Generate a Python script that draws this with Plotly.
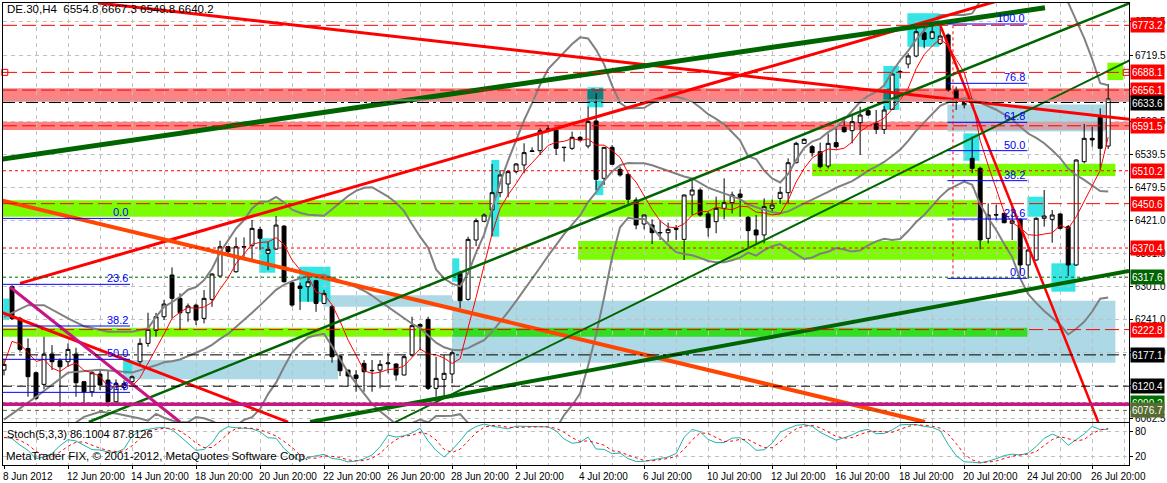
import pandas as pd
import plotly.graph_objects as go

# H4 bars of DE.30, bar 0 = 8 Jun 2012 20:00 (4 bars per day)
opens = [6149.6, 6300.4, 6243.1, 6188.8, 6144.8, 6123.7, 6178.6, 6166.5, 6164.7, 6178.6,
         6128.5, 6110.4, 6142.4, 6131.5, 6092.3, 6118.0, 6128.5, 6164.7, 6197.9, 6221.4,
         6246.1, 6321.5, 6279.3, 6253.3, 6267.0, 6243.1, 6277.5, 6319.7, 6372.7, 6327.5,
         6373.0, 6374.5, 6404.0, 6360.7, 6368.5, 6410.0, 6307.6, 6301.6, 6300.4, 6311.2,
         6270.2, 6264.2, 6175.0, 6149.6, 6140.6, 6161.7, 6148.4, 6149.6, 6161.0, 6160.6,
         6140.7, 6176.8, 6228.0, 6241.3, 6116.5, 6132.8, 6142.5, 6324.6, 6277.5, 6384.9,
         6418.7, 6439.2, 6470.5, 6486.2, 6508.5, 6520.6, 6545.0, 6546.5, 6585.0, 6583.9,
         6552.0, 6550.7, 6570.6, 6554.9, 6600.2, 6496.4, 6552.5, 6512.7, 6503.7, 6457.2,
         6413.8, 6412.0, 6398.5, 6398.1, 6406.0, 6386.0, 6466.3, 6475.3, 6432.0, 6418.1,
         6442.2, 6452.4, 6468.0, 6425.9, 6403.0, 6394.0, 6442.1, 6460.2, 6470.5, 6524.7,
         6559.7, 6553.7, 6544.6, 6518.7, 6561.0, 6588.7, 6582.6, 6597.1, 6618.8, 6595.9,
         6585.0, 6621.2, 6689.0, 6703.2, 6717.7, 6759.9, 6749.7, 6740.6, 6755.7, 6656.2,
         6629.5, 6532.6, 6514.5, 6387.9, 6430.0, 6433.1, 6415.0, 6422.3, 6339.7, 6348.7,
         6424.1, 6422.3, 6432.0, 6409.0, 6339.7, 6526.6, 6568.8, 6608.0, 6554.8]
highs = [6170.0, 6303.0, 6246.0, 6206.9, 6147.0, 6209.9, 6194.8, 6170.7, 6197.9, 6190.0,
         6130.0, 6149.6, 6149.6, 6149.6, 6132.7, 6131.0, 6140.0, 6206.9, 6253.3, 6253.0,
         6276.3, 6335.3, 6288.3, 6270.0, 6270.0, 6294.3, 6325.0, 6383.6, 6374.0, 6389.6,
         6389.6, 6421.0, 6409.0, 6381.8, 6428.2, 6412.0, 6310.0, 6307.6, 6318.5, 6313.0,
         6294.3, 6267.2, 6178.6, 6150.0, 6149.6, 6167.7, 6167.7, 6167.7, 6179.9, 6161.8,
         6176.8, 6246.2, 6234.0, 6246.2, 6173.8, 6176.8, 6185.9, 6329.4, 6390.9, 6424.1,
         6433.1, 6522.4, 6511.5, 6511.5, 6523.6, 6559.8, 6552.5, 6586.9, 6593.0, 6586.9,
         6553.0, 6580.9, 6573.0, 6626.0, 6650.2, 6553.0, 6556.7, 6517.5, 6506.7, 6462.0,
         6431.0, 6422.3, 6419.9, 6416.2, 6412.0, 6467.0, 6493.4, 6478.3, 6436.1, 6463.3,
         6496.4, 6472.3, 6476.5, 6428.3, 6430.0, 6460.2, 6458.4, 6481.3, 6532.6, 6562.7,
         6568.8, 6556.7, 6561.0, 6577.8, 6586.8, 6607.9, 6611.0, 6626.0, 6626.0, 6620.0,
         6627.2, 6687.6, 6692.4, 6722.5, 6767.7, 6772.0, 6773.8, 6770.8, 6758.7, 6662.3,
         6633.3, 6571.8, 6517.5, 6451.2, 6448.2, 6434.0, 6448.2, 6424.1, 6375.8, 6426.0,
         6475.3, 6439.2, 6433.0, 6412.0, 6530.8, 6594.7, 6590.0, 6623.0, 6667.3]
lows = [6140.0, 6240.0, 6183.0, 6101.4, 6095.0, 6114.6, 6149.6, 6083.3, 6155.6, 6101.4,
        6089.3, 6101.4, 6113.4, 6083.3, 6089.3, 6113.0, 6125.5, 6158.7, 6191.8, 6210.0,
        6240.0, 6243.1, 6222.0, 6237.0, 6231.0, 6234.0, 6264.0, 6318.0, 6354.7, 6325.7,
        6351.6, 6350.4, 6367.0, 6330.5, 6366.7, 6308.0, 6264.0, 6258.2, 6273.2, 6255.0,
        6269.0, 6162.9, 6138.8, 6119.5, 6110.4, 6110.4, 6110.4, 6116.5, 6143.7, 6130.4,
        6140.0, 6173.8, 6186.0, 6113.5, 6101.5, 6098.5, 6125.6, 6261.3, 6275.1, 6374.0,
        6418.0, 6392.1, 6462.1, 6462.1, 6505.5, 6505.5, 6544.0, 6538.6, 6582.0, 6538.6,
        6526.6, 6547.7, 6562.8, 6550.7, 6475.3, 6484.4, 6520.6, 6499.5, 6448.2, 6404.2,
        6404.2, 6377.6, 6384.9, 6381.9, 6384.9, 6348.7, 6430.1, 6427.1, 6391.0, 6397.0,
        6422.3, 6433.1, 6427.1, 6369.8, 6375.8, 6378.8, 6436.1, 6450.0, 6451.2, 6523.5,
        6558.5, 6535.6, 6514.5, 6514.5, 6550.7, 6579.0, 6559.7, 6538.6, 6609.2, 6576.6,
        6576.6, 6620.0, 6677.3, 6695.4, 6715.3, 6731.6, 6747.8, 6737.6, 6653.2, 6620.0,
        6623.0, 6505.5, 6368.0, 6378.8, 6421.0, 6415.0, 6384.9, 6324.6, 6315.5, 6347.5,
        6409.0, 6380.0, 6404.0, 6319.7, 6337.9, 6523.6, 6553.7, 6511.5, 6549.8]
closes = [6159.9, 6243.1, 6187.0, 6137.6, 6098.4, 6178.6, 6164.7, 6155.6, 6187.0, 6126.7,
          6110.4, 6144.8, 6122.5, 6092.3, 6125.5, 6125.0, 6137.5, 6197.9, 6223.2, 6246.1,
          6269.0, 6279.3, 6253.3, 6265.4, 6240.0, 6279.3, 6323.3, 6372.7, 6363.7, 6372.7,
          6372.0, 6405.9, 6388.0, 6367.9, 6411.9, 6309.4, 6267.2, 6297.3, 6309.4, 6270.2,
          6288.3, 6173.7, 6148.4, 6138.8, 6134.6, 6146.6, 6148.9, 6159.9, 6162.5, 6140.7,
          6173.8, 6229.9, 6232.0, 6116.5, 6134.6, 6143.7, 6181.0, 6275.1, 6386.0, 6419.9,
          6430.1, 6470.5, 6502.5, 6508.5, 6522.4, 6542.9, 6546.0, 6582.7, 6585.5, 6550.7,
          6552.5, 6570.6, 6565.8, 6599.0, 6494.6, 6552.5, 6521.8, 6502.5, 6458.5, 6412.0,
          6430.1, 6398.1, 6398.0, 6404.2, 6404.5, 6466.3, 6475.3, 6430.1, 6407.2, 6442.2,
          6452.4, 6466.3, 6462.0, 6401.8, 6394.0, 6445.2, 6448.2, 6471.1, 6524.7, 6559.7,
          6567.0, 6542.8, 6517.5, 6559.7, 6553.7, 6580.8, 6598.9, 6611.0, 6611.0, 6585.0,
          6620.0, 6685.1, 6689.5, 6717.7, 6761.7, 6747.8, 6761.7, 6753.9, 6656.2, 6638.1,
          6632.0, 6514.5, 6384.9, 6430.1, 6430.5, 6416.2, 6419.3, 6339.7, 6366.8, 6424.1,
          6428.3, 6430.1, 6406.0, 6339.7, 6529.6, 6568.8, 6566.0, 6550.7, 6640.2]
bars = list(range(len(closes)))

# Bollinger band values before the 20-bar window is full
bb_head_upper_bars = [0, 3, 5, 8, 10, 13, 16, 18]
bb_head_upper = [6246, 6267, 6267, 6243, 6229, 6219, 6219, 6225]
bb_head_mid_bars = [0, 4, 8, 12, 16, 18]
bb_head_mid = [6060, 6101, 6145, 6150, 6145, 6153]
bb_head_lower_bars = [9, 10, 12, 14, 17, 18]
bb_head_lower = [6055, 6065, 6074, 6071, 6062, 6058]

# horizontal levels
level_prices = [6773.2, 6688.1, 6656.1, 6633.6, 6591.5, 6510.2, 6450.6,
                6370.4, 6317.6, 6222.8, 6177.1, 6120.4, 6090.2, 6076.7]
level_colors = ["#FF0000", "#FF0000", "#FF0000", "#000000", "#FF0000", "#FF0000", "#FF0000",
                "#FF0000", "#006400", "#FF0000", "#000000", "#000000", "#007000", "#556B2F"]
level_dash = ["14px,5px", "14px,5px", "14px,5px", "12px,4px,3px,4px", "14px,5px", "3px,3px", "14px,5px",
              "3px,3px", "3px,3px", "14px,5px", "12px,4px,3px,4px", "9px,5px", "3px,3px", "4px,4px"]
bid_price = 6638.0
magenta_level = 6087.6

# zones: (bar from, bar to, price low, price high)
salmon_zones = [(-1, 142, 6635.0, 6659.2), (-1, 142, 6583.7, 6598.8)]
lime_zones = [(137.9, 139.9, 6674.2, 6705.6), (101.0, 138.9, 6500.6, 6523.0),
              (-0.2, 121.6, 6427.0, 6457.0), (71.75, 126.6, 6349.0, 6383.0),
              (-0.2, 127.9, 6210.0, 6226.0)]
blue_zones = [(14.9, 41.75, 6133.0, 6168.0), (39.9, 56.0, 6264.0, 6285.0),
              (56.0, 138.9, 6163.0, 6275.0), (117.9, 137.6, 6581.0, 6630.0)]
cyan_zones = [(-0.1, 0.66, 6240.0, 6279.0), (14.9, 16.0, 6142.4, 6167.7),
              (31.9, 33.9, 6325.7, 6387.9), (36.9, 40.8, 6273.2, 6336.5),
              (56.0, 56.9, 6309.4, 6351.7), (60.9, 61.9, 6390.9, 6529.6),
              (72.9, 74.9, 6624.9, 6661.1), (73.9, 74.9, 6466.0, 6492.0),
              (109.9, 111.9, 6620.0, 6699.6), (112.9, 116.9, 6734.6, 6795.0),
              (119.9, 121.9, 6528.3, 6577.8), (127.9, 129.9, 6427.0, 6463.2),
              (130.9, 133.9, 6291.4, 6342.7)]

# trend lines: (bar, price, bar, price)
trend_lines = [(11.75, 6813.6, 140.75, 6603.2), (2.0, 6306.5, 124.0, 6816.6),
               (117.0, 6773.8, 136.75, 6055.6), (-0.5, 6255.1, 35.5, 6055.6),
               (-0.5, 6457.2, 115.1, 6055.6), (-0.5, 6530.8, 130.1, 6804.9),
               (38.25, 6055.6, 140.6, 6328.8), (10.6, 6055.6, 140.75, 6813.6),
               (48.9, 6055.6, 140.75, 6710.5), (0.75, 6299.8, 22.0, 6055.6)]
trend_styles = [("#FF0000", 3), ("#FF0000", 3), ("#FF0000", 2.5), ("#FF0000", 3),
                ("#FF4500", 4), ("#006400", 5), ("#006400", 4), ("#006400", 2.5),
                ("#006400", 2), ("#C71585", 3)]

# Fibonacci retracements
fib_left_labels = ["0.0", "23.6", "38.2", "50.0", "61.8"]
fib_left_prices = [6424.0, 6304.7, 6229.3, 6169.0, 6109.3]
fib_left_span = (-0.2, 15.75)
fib_right_labels = ["0.0", "23.6", "38.2", "50.0", "61.8", "76.8", "100.0"]
fib_right_prices = [6315.5, 6422.8, 6492.2, 6546.5, 6597.8, 6668.3, 6775.6]
fib_right_span = (117.9, 127.9)
fib_right_link = (118.6, 6773.2, 6317.6)

price_ticks = [6779.5, 6719.5, 6659.5, 6598.5, 6539.5, 6479.5, 6421.0,
               6361.0, 6301.0, 6241.0, 6181.0, 6121.0, 6062.5]
hidden_ticks = [6659.5, 6121.0]  # fully under level labels
date_label_bars = list(range(0, 137, 8))
date_labels = ["8 Jun 2012", "12 Jun 20:00", "14 Jun 20:00", "18 Jun 20:00", "20 Jun 20:00",
               "22 Jun 20:00", "26 Jun 20:00", "28 Jun 20:00", "2 Jul 20:00", "4 Jul 20:00",
               "6 Jul 20:00", "10 Jul 20:00", "12 Jul 20:00", "16 Jul 20:00", "18 Jul 20:00",
               "20 Jul 20:00", "24 Jul 20:00", "26 Jul 20:00"]

# indicators
close_s = pd.Series(closes, dtype=float)
high_s = pd.Series(highs, dtype=float)
low_s = pd.Series(lows, dtype=float)
mid = close_s.rolling(20).mean()
sd = close_s.rolling(20).std(ddof=0)
upper = mid + 2 * sd
lower = mid - 2 * sd
ma5 = close_s.rolling(5, min_periods=1).mean()
ll = low_s.rolling(5, min_periods=1).min()
hh = high_s.rolling(5, min_periods=1).max()
stoch_main = 100 * (close_s - ll).rolling(3, min_periods=1).sum() / (hh - ll).rolling(3, min_periods=1).sum()
stoch_sig = stoch_main.rolling(3, min_periods=1).mean()

GRID = "#C0C0C0"
FONT = "Liberation Sans"

fig = go.Figure()

fig.add_trace(go.Candlestick(
    x=bars, open=opens, high=highs, low=lows, close=closes,
    increasing=dict(line=dict(color="black", width=1), fillcolor="white"),
    decreasing=dict(line=dict(color="black", width=1), fillcolor="black"),
    whiskerwidth=0, hoverinfo="skip", xaxis="x", yaxis="y"))

for hb, hv, s in [(bb_head_upper_bars, bb_head_upper, upper),
                  (bb_head_mid_bars, bb_head_mid, mid),
                  (bb_head_lower_bars, bb_head_lower, lower)]:
    fig.add_trace(go.Scatter(x=hb + bars[19:], y=hv + s[19:].tolist(), mode="lines",
                             line=dict(color="#808080", width=2), hoverinfo="skip"))

fig.add_trace(go.Scatter(x=bars, y=ma5, mode="lines", line=dict(color="#FF0000", width=1), hoverinfo="skip"))

for (x0, p0, x1, p1), (col, w) in zip(trend_lines, trend_styles):
    fig.add_trace(go.Scatter(x=[x0, x1], y=[p0, p1], mode="lines",
                             line=dict(color=col, width=w), hoverinfo="skip"))

# anchor squares of the 6688.1 line
fig.add_trace(go.Scatter(x=[0.1, 140.25], y=[level_prices[1]] * 2, mode="markers", cliponaxis=False,
                         marker=dict(symbol="square-open", size=6, color="#FF0000", line=dict(width=1)),
                         hoverinfo="skip"))

# stochastic
fig.add_trace(go.Scatter(x=bars, y=stoch_main, mode="lines", line=dict(color="#20B2AA", width=1),
                         xaxis="x2", yaxis="y2", hoverinfo="skip"))
fig.add_trace(go.Scatter(x=bars, y=stoch_sig, mode="lines", line=dict(color="#FF0000", width=1, dash="3px,3px"),
                         xaxis="x2", yaxis="y2", hoverinfo="skip"))

shapes = []


def rect(z, color):
    shapes.append(dict(type="rect", xref="x", yref="y", x0=z[0], x1=z[1], y0=z[2], y1=z[3],
                       fillcolor=color, line=dict(width=0), layer="below"))


def overlap(a, b):
    x0, x1 = max(a[0], b[0]), min(a[1], b[1])
    y0, y1 = max(a[2], b[2]), min(a[3], b[3])
    return (x0, x1, y0, y1) if x0 < x1 and y0 < y1 else None


for z in salmon_zones:
    rect(z, "#FF8282")
for z in lime_zones:
    rect(z, "#7CFC00")
for z in blue_zones:
    rect(z, "#ADD8E6")
for a in lime_zones:
    for b in blue_zones:
        o = overlap(a, b)
        if o:
            rect(o, "#33DD22")
for a in blue_zones:
    for b in salmon_zones:
        o = overlap(a, b)
        if o:
            rect(o, "#CFA6AD")
for z in cyan_zones:
    rect(z, "#33E6E6")
for a in cyan_zones:
    for b in salmon_zones:
        o = overlap(a, b)
        if o:
            rect(o, "#108080")

for p, col, d in zip(level_prices, level_colors, level_dash):
    shapes.append(dict(type="line", xref="x domain", yref="y", x0=0, x1=1, y0=p, y1=p,
                       line=dict(color=col, width=1, dash=d)))
shapes.append(dict(type="line", xref="x domain", yref="y", x0=0, x1=1, y0=bid_price, y1=bid_price,
                   line=dict(color="#A8A8A8", width=1)))
shapes.append(dict(type="line", xref="x domain", yref="y", x0=0, x1=1, y0=magenta_level, y1=magenta_level,
                   line=dict(color="#C71585", width=3.5)))

for (x0, x1), prices in [(fib_left_span, fib_left_prices), (fib_right_span, fib_right_prices)]:
    for p in prices:
        shapes.append(dict(type="line", xref="x", yref="y", x0=x0, x1=x1, y0=p, y1=p,
                           line=dict(color="#0000FF", width=1)))
shapes.append(dict(type="line", xref="x", yref="y", x0=fib_right_link[0], x1=fib_right_link[0],
                   y0=fib_right_link[1], y1=fib_right_link[2], line=dict(color="#FF0000", width=1, dash="3px,3px")))

annotations = []
for (x0, x1), prices, labels in [(fib_left_span, fib_left_prices, fib_left_labels),
                                 (fib_right_span, fib_right_prices, fib_right_labels)]:
    for p, t in zip(prices, labels):
        annotations.append(dict(x=x1, y=p, xref="x", yref="y", text=t, showarrow=False,
                                xanchor="right", yanchor="bottom", yshift=-2,
                                font=dict(family=FONT, size=11, color="#0000FF")))

for p, col in zip(level_prices, level_colors):
    annotations.append(dict(x=1, y=p, xref="x domain", yref="y", text=f"{p:.1f}", showarrow=False,
                            xanchor="left", xshift=1, height=12, align="left",
                            bgcolor=col, borderpad=1, font=dict(family=FONT, size=10, color="white")))

for b, t in zip(date_label_bars, date_labels):
    annotations.append(dict(x=b, y=-0.008, xref="x2", yref="paper", text=t, showarrow=False,
                            xanchor="left", yanchor="top", xshift=-3,
                            font=dict(family=FONT, size=10, color="black")))

annotations.append(dict(x=0, y=0.986, xref="paper", yref="paper", xanchor="left", yanchor="middle", xshift=2,
                        text="DE.30,H4  6554.8 6667.3 6549.8 6640.2", showarrow=False,
                        font=dict(family=FONT, size=11.5, color="black")))
annotations.append(dict(x=0, y=0.068, xref="paper", yref="paper", xanchor="left", yanchor="middle", xshift=2,
                        text="Stoch(5,3,3) 86.1004 87.8126", showarrow=False,
                        font=dict(family=FONT, size=11, color="black")))
annotations.append(dict(x=0, y=0.020, xref="paper", yref="paper", xanchor="left", yanchor="middle", xshift=1,
                        text="MetaTrader FIX, © 2001-2012, MetaQuotes Software Corp.", showarrow=False,
                        font=dict(family=FONT, size=11.5, color="black")))

xgrid = dict(range=[-0.125, 140.6], showgrid=True, gridcolor=GRID, griddash="4px,4px", gridwidth=1,
             tickmode="linear", tick0=0, showticklabels=False, zeroline=False, automargin=False,
             showline=True, mirror=True, linecolor="black", linewidth=1)

fig.update_layout(
    width=1167, height=483, margin=dict(l=3, r=38, t=3, b=18, autoexpand=False),
    paper_bgcolor="white", plot_bgcolor="white", showlegend=False,
    font=dict(family=FONT, size=10, color="black"),
    xaxis=dict(domain=[0, 1], anchor="y", ticks="", dtick=4, rangeslider=dict(visible=False), **xgrid),
    xaxis2=dict(domain=[0, 1], anchor="y2", matches="x", ticks="outside", ticklen=3, tickcolor="black",
                dtick=8, minor=dict(tick0=0, dtick=4, showgrid=True, gridcolor=GRID, griddash="4px,4px", ticks=""),
                **xgrid),
    yaxis=dict(domain=[0.093, 1], anchor="x", side="right", range=[6055.6, 6813.6],
               tickvals=price_ticks,
               ticktext=["" if v in hidden_ticks else f"{v:.1f}" for v in price_ticks],
               ticks="outside", ticklen=3, tickcolor="black", showgrid=True, gridcolor=GRID,
               griddash="4px,4px", zeroline=False, showline=True, mirror=True, linecolor="black",
               automargin=False, tickfont=dict(family=FONT, size=10)),
    yaxis2=dict(domain=[0, 0.09], anchor="x2", side="right", range=[0, 100],
                tickvals=[80, 20], ticktext=["80", "20"], ticks="outside", ticklen=3, tickcolor="black",
                showgrid=True, gridcolor=GRID, griddash="4px,4px", zeroline=False, automargin=False,
                showline=True, mirror=True, linecolor="black", tickfont=dict(family=FONT, size=10)),
    shapes=shapes, annotations=annotations,
)

# the page body has a default 8px margin; remove it so the figure sits at the window corner
fig.write_html("out.html", config={"displayModeBar": False},
               post_script="document.body.style.margin='0';document.body.style.overflow='hidden';")
